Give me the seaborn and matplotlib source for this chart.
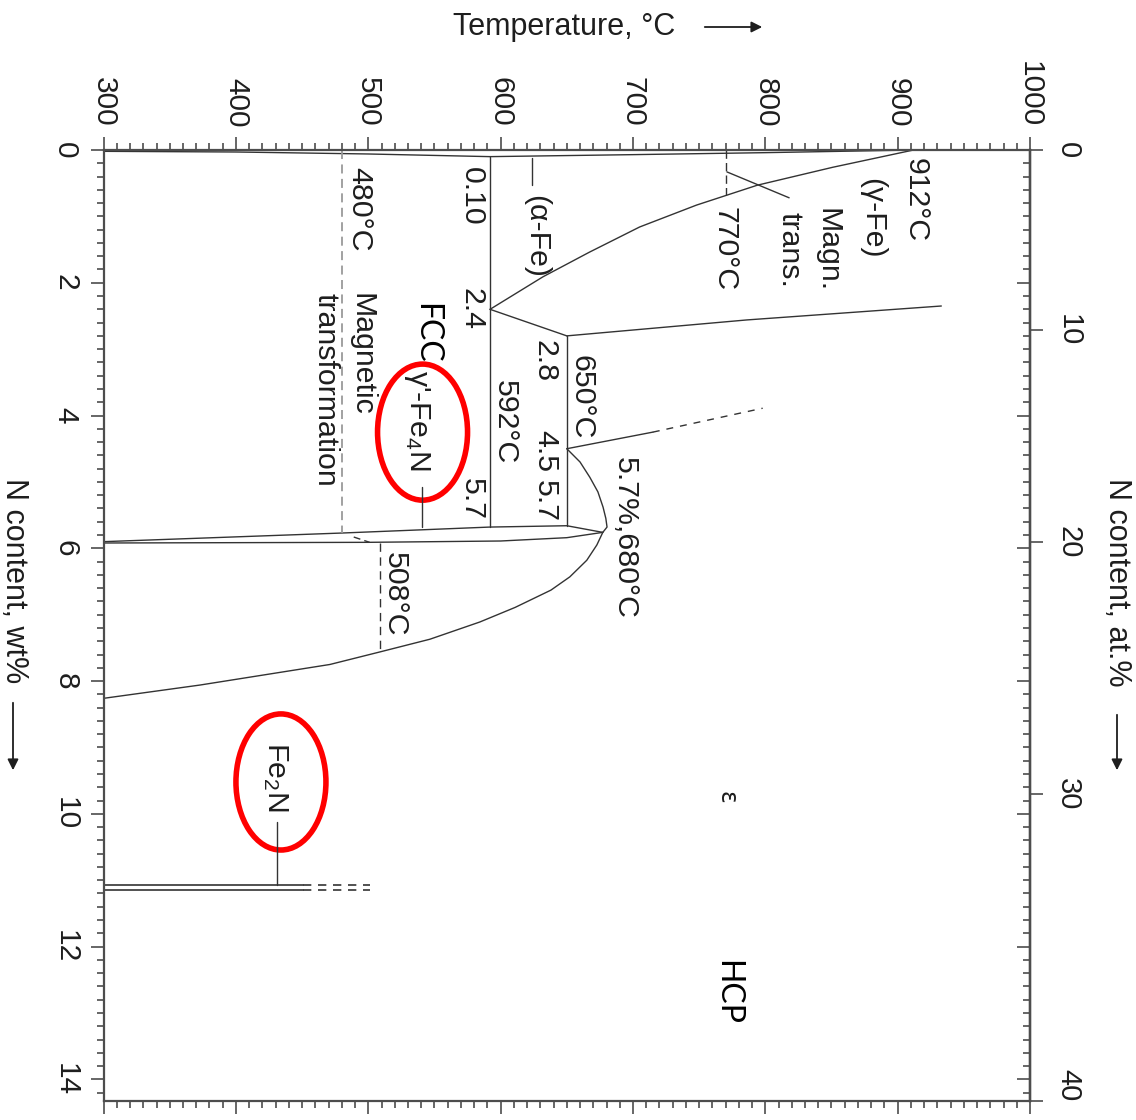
import numpy as np
import matplotlib
matplotlib.use("Agg")
import matplotlib.pyplot as plt
import seaborn as sns
from matplotlib.patches import Ellipse
from matplotlib.ticker import MultipleLocator, FixedLocator

# ---- data (temperature in degC, nitrogen in wt%) ----
ALPHA_SOLVUS_T = [300, 400, 500, 592]
ALPHA_SOLVUS_N = [0.02, 0.03, 0.06, 0.10]

ALPHA_GAMMA_T = [592, 700, 800, 912]
ALPHA_GAMMA_N = [0.10, 0.07, 0.04, 0.0]

GAMMA_ALPHA_T = [912, 851, 794, 748, 705, 667, 632, 592]
GAMMA_ALPHA_N = [0.0, 0.26, 0.53, 0.83, 1.16, 1.54, 1.91, 2.4]

GAMMA_GPRIME_T = [592, 650]
GAMMA_GPRIME_N = [2.4, 2.8]

EUTECTOID_592_T = [592, 592]
EUTECTOID_592_N = [0.10, 5.68]

EUTECTOID_650_T = [650, 650]
EUTECTOID_650_N = [2.8, 5.66]

GAMMA_EPS_T = [650, 786, 933]
GAMMA_EPS_N = [2.8, 2.56, 2.35]

EPS_GAMMA_T = [650, 715]
EPS_GAMMA_N = [4.5, 4.25]
EPS_GAMMA_EXT_T = [715, 798]
EPS_GAMMA_EXT_N = [4.25, 3.89]

EPS_CURVE_T = [650, 660, 667.4, 673.5, 677.4, 679.5, 680.4, 677.2, 672.7, 665.1,
               652.3, 638, 611, 584.3, 546.5, 509, 471, 433, 372.8, 300]
EPS_CURVE_N = [4.5, 4.70, 4.93, 5.15, 5.38, 5.55, 5.68, 5.76, 5.95, 6.18,
               6.43, 6.63, 6.89, 7.11, 7.37, 7.56, 7.75, 7.87, 8.06, 8.26]

GPRIME_UPPER_T = [300, 480, 592, 650, 677.2]
GPRIME_UPPER_N = [5.90, 5.77, 5.68, 5.66, 5.76]
GPRIME_LOWER_T = [300, 500, 600, 650, 677.2]
GPRIME_LOWER_N = [5.92, 5.91, 5.89, 5.84, 5.76]

MAG_480_T = [480, 480]
MAG_480_N = [0.0, 5.77]
MAG_SLANT_T = [489, 501]
MAG_SLANT_N = [5.83, 5.91]
MAG_508_T = [509, 509]
MAG_508_N = [5.92, 7.56]
MAG_770_T = [770, 770]
MAG_770_N = [0.0, 0.68]
MAGN_POINTER_T = [771, 818]
MAGN_POINTER_N = [0.33, 0.72]

FE2N_T = [300, 451]
FE2N_EXT_T = [451, 501]
FE2N_N = [11.07, 11.14]

ALPHA_LEADER_T = [624, 624]
ALPHA_LEADER_N = [0.12, 0.53]
FE4N_LEADER_T = [540.5, 540.5]
FE4N_LEADER_N = [5.07, 5.68]
FE2N_LEADER_T = [431, 431]
FE2N_LEADER_N = [10.12, 11.07]

T_TICKS = [300, 400, 500, 600, 700, 800, 900, 1000]
WT_TICKS = [0, 2, 4, 6, 8, 10, 12, 14]
AT_TICKS = [0, 10, 20, 30, 40]

M_N, M_FE = 14.007, 55.845


def wt_to_at(w):
    w = np.asarray(w, dtype=float)
    n = w / M_N
    return 100 * n / (n + (100 - w) / M_FE)


def at_to_wt(a):
    a = np.asarray(a, dtype=float)
    return 100 * a * M_N / (a * M_N + (100 - a) * M_FE)


TXT = '#1e1e1e'
LINE = '#333333'
SPINE = '#4d4d4d'

sns.set_theme(style='ticks')
plt.rcParams['font.family'] = ['Liberation Sans', 'DejaVu Sans']
plt.rcParams['mathtext.fontset'] = 'custom'
plt.rcParams['mathtext.rm'] = 'Liberation Sans'
plt.rcParams['mathtext.it'] = 'Liberation Sans'
plt.rcParams['mathtext.default'] = 'regular'

W, H = 1136, 1120
fig = plt.figure(figsize=(W / 100, H / 100), dpi=100)
x0, x1, y0, y1 = 103.6, 1030, 150, 1101
ax = fig.add_axes([x0 / W, 1 - y1 / H, (x1 - x0) / W, (y1 - y0) / H])


def line(t, n, lw=1.0, color=LINE, **kw):
    sns.lineplot(x=t, y=n, ax=ax, sort=False, estimator=None,
                 color=color, lw=lw, legend=False, **kw)


line(ALPHA_SOLVUS_T, ALPHA_SOLVUS_N)
line(ALPHA_GAMMA_T, ALPHA_GAMMA_N)
line(GAMMA_ALPHA_T, GAMMA_ALPHA_N)
line(GAMMA_GPRIME_T, GAMMA_GPRIME_N)
line(EUTECTOID_592_T, EUTECTOID_592_N)
line(EUTECTOID_650_T, EUTECTOID_650_N)
line(GAMMA_EPS_T, GAMMA_EPS_N)
line(EPS_GAMMA_T, EPS_GAMMA_N)
line(EPS_GAMMA_EXT_T, EPS_GAMMA_EXT_N, linestyle=(0, (5, 5)))
line(EPS_CURVE_T, EPS_CURVE_N)
line(GPRIME_UPPER_T, GPRIME_UPPER_N)
line(GPRIME_LOWER_T, GPRIME_LOWER_N)
line(MAG_480_T, MAG_480_N, lw=1.3, color='#9a9a9a', linestyle=(0, (5, 3)))
line(MAG_SLANT_T, MAG_SLANT_N, linestyle=(0, (5, 3)))
line(MAG_508_T, MAG_508_N, linestyle=(0, (6, 4)))
line(MAG_770_T, MAG_770_N, linestyle=(0, (6, 3)))
line(MAGN_POINTER_T, MAGN_POINTER_N)
for n in FE2N_N:
    line(FE2N_T, [n, n], lw=1.2)
    line(FE2N_EXT_T, [n, n], lw=1.2, linestyle=(0, (5, 4)))
line(ALPHA_LEADER_T, ALPHA_LEADER_N)
line(FE4N_LEADER_T, FE4N_LEADER_N)
line(FE2N_LEADER_T, FE2N_LEADER_N)

# red ellipses around the nitrides
for cx, cy in [(541, 4.25), (434, 9.52)]:
    ax.add_patch(Ellipse((cx, cy), 68, 2.05, fill=False, edgecolor='#ff0000', lw=4))

# rotated annotations: (text, T, wt% where the text starts)
LABELS = [
    ('912°C', 913.7, 0.12),
    ('(γ-Fe)', 880.5, 0.42),
    ('Magn.', 847, 0.87),
    ('trans.', 818.5, 0.93),
    ('770°C', 769.4, 0.86),
    ('(α-Fe)', 626.6, 0.68),
    ('0.10', 578, 0.26),
    ('2.4', 578, 2.08),
    ('480°C', 493, 0.26),
    ('Magnetic', 494.6, 2.16),
    ('transformation', 467.4, 2.16),
    ("γ'-Fe$_4$N", 536.7, 3.32),
    ('5.7', 578, 4.94),
    ('592°C', 603, 3.47),
    ('2.8', 633.4, 2.86),
    ('650°C', 661.4, 3.09),
    ('4.5', 633.4, 4.22),
    ('5.7', 633.4, 4.97),
    ('5.7%,680°C', 693.8, 4.63),
    ('508°C', 520, 6.06),
    ('Fe$_2$N', 430, 8.92),
]
for s, t, n in LABELS:
    ax.text(t, n, s, rotation=-90, ha='center', va='top', fontsize=21.8, color=TXT)

ax.text(544, 2.31, 'FCC', rotation=-90, ha='center', va='top', fontsize=23,
        color='black', family=['Lato', 'DejaVu Sans'])
ax.text(771, 12.2, 'HCP', rotation=-90, ha='center', va='top', fontsize=23,
        color='black', family=['Lato', 'DejaVu Sans'])
ax.text(770.7, 9.75, 'ε', rotation=-90, ha='center', va='center', fontsize=17,
        color=TXT, family=['DejaVu Sans'])

ax.set_xlim(300, 1000)
ax.set_ylim(at_to_wt(40), 0)
ax.set_xlabel('')
ax.set_ylabel('')

for s in ax.spines.values():
    s.set_color(SPINE)
    s.set_linewidth(1.6)

ax.xaxis.set_major_locator(FixedLocator(T_TICKS))
ax.xaxis.set_minor_locator(MultipleLocator(10))
ax.yaxis.set_major_locator(FixedLocator(WT_TICKS))
ax.yaxis.set_minor_locator(MultipleLocator(0.2))
ax.tick_params(axis='x', which='both', top=True, bottom=True, labeltop=True,
               labelbottom=False, direction='out', color=SPINE, width=1.2)
ax.tick_params(axis='y', which='both', left=True, right=False, direction='out',
               color=SPINE, width=1.2)
ax.tick_params(which='major', length=9.5)
ax.tick_params(which='minor', length=5)
ax.tick_params(axis='x', which='major', labelsize=21.5, labelcolor=TXT,
               labelrotation=-90, pad=7)
ax.tick_params(axis='y', which='major', labelsize=21.5, labelcolor=TXT,
               labelrotation=-90, pad=8)
for lab in ax.get_yticklabels():
    lab.set_va('center')

# right side: wt% ticks inside, at.% ticks outside with labels
sec_in = ax.secondary_yaxis('right', functions=(lambda v: v, lambda v: v))
sec_in.yaxis.set_major_locator(FixedLocator(WT_TICKS))
sec_in.yaxis.set_minor_locator(MultipleLocator(0.2))
sec_in.tick_params(which='both', direction='in', color=SPINE, width=1.2, labelright=False)
sec_in.tick_params(which='major', length=9.5)
sec_in.tick_params(which='minor', length=5)
sec_in.spines['right'].set_color(SPINE)
sec_in.spines['right'].set_linewidth(1.6)

sec = ax.secondary_yaxis('right', functions=(wt_to_at, at_to_wt))
sec.yaxis.set_major_locator(FixedLocator(AT_TICKS))
sec.yaxis.set_minor_locator(FixedLocator([]))
sec.tick_params(which='major', direction='out', length=9.5, width=1.2, color=SPINE,
                labelsize=21, labelcolor=TXT, labelrotation=-90, pad=8)
sec.spines['right'].set_color(SPINE)
sec.spines['right'].set_linewidth(1.6)
fig.canvas.draw()
for lab in sec.get_yticklabels():
    lab.set_va('center')
sec.get_yticklabels()[-1].set_va('bottom')

# axis titles with arrows
fig.text(453 / W, 1 - 27 / H, 'Temperature, °C', ha='left', va='center',
         fontsize=22, color=TXT)
fig.text(14 / W, 1 - 478 / H, 'N content, wt%', rotation=-90, ha='center', va='top',
         fontsize=22, color=TXT)
fig.text(1117 / W, 1 - 478 / H, 'N content, at.%', rotation=-90, ha='center', va='top',
         fontsize=22, color=TXT)
arrow = dict(arrowstyle='-|>', color=TXT, lw=1.3, mutation_scale=16)
for (xa, ya), (xb, yb) in [((702, 27), (765, 27)), ((13, 700), (13, 773)),
                           ((1117, 712), (1117, 773))]:
    ax.annotate('', xy=(xb / W, 1 - yb / H), xytext=(xa / W, 1 - ya / H),
                xycoords='figure fraction', textcoords='figure fraction',
                arrowprops=arrow, annotation_clip=False)

fig.savefig('out.png', dpi=100)
